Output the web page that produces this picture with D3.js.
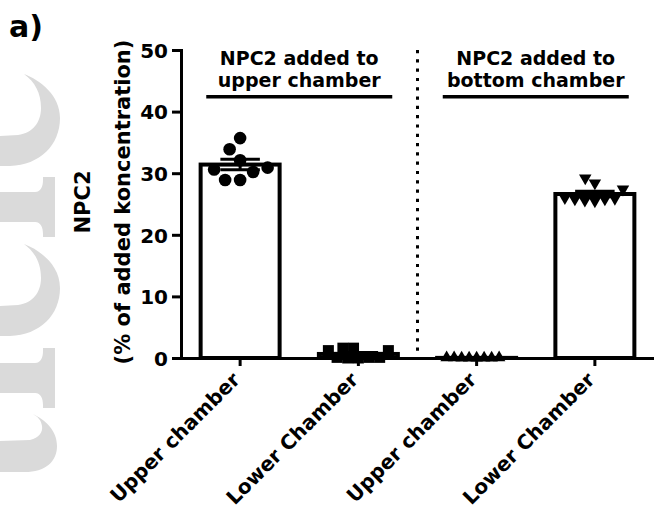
<!DOCTYPE html>
<html>
<head>
<meta charset="utf-8">
<script src="https://cdn.jsdelivr.net/npm/d3@7"></script>
<style>
  html, body { margin: 0; padding: 0; background: #fff; }
  svg { display: block; }
</style>
</head>
<body>
<svg id="chart" width="654" height="516"></svg>
<script>
// ---- data ----
const categories = ["Upper chamber", "Lower Chamber", "Upper chamber", "Lower Chamber"];
const groupLabels = [["NPC2 added to", "upper chamber"], ["NPC2 added to", "bottom chamber"]];
const yTicks = [0, 10, 20, 30, 40, 50];
const yTitle = ["NPC2", "(% of added koncentration)"];
const panelLabel = "a)";

// individual measurements per column (% of added concentration)
const upperAddedUpper = [35.7, 33.9, 32.1, 30.9, 30.6, 30.2, 28.9, 28.9];
const upperAddedLower = [1.6, 1.6, 1.2, 1.2, 0.1, 0.1, 0.1, 0.0, 0.0];
const bottomAddedUpper = [0.05, 0.0, 0.05, 0.0, 0.0, 0.05, 0.0, 0.0];
const bottomAddedLower = [29.2, 28.4, 27.4, 26.0, 25.9, 25.8, 25.8, 25.6, 25.5];

const columns = [upperAddedUpper, upperAddedLower, bottomAddedUpper, bottomAddedLower];
const markers = ["circle", "square", "triangleUp", "triangleDown"];

// ---- layout ----
const FONT = "'DejaVu Sans', Verdana, sans-serif";
const svg = d3.select("#chart");

const y = d3.scaleLinear().domain([0, 50]).range([358, 50]);
const x = d3.scaleBand()
  .domain(d3.range(categories.length))
  .range([181, 654])
  .paddingInner(0.332)
  .paddingOuter(0.166);

// ---- background watermark glyph fragments ----
const wm = svg.append("g").attr("fill", "#dadada");
const crescent = "M24,74 C40,80 60,95 60,118 C60,145 40,165 10,166 L0,166 L0,136 L18,135 C33,133 41,122 41,108 C41,93 35,82 24,74 Z";
const stem = "M0,192 L35,192 C41,192 43,186 43,180 L43,177 L55,177 L55,237 L43,237 L43,234 C43,228 41,222 35,222 L0,222 Z";
wm.append("path").attr("d", crescent);
wm.append("path").attr("d", crescent).attr("transform", "translate(0,170)");
wm.append("path").attr("d", stem);
wm.append("path").attr("d", stem).attr("transform", "translate(0,171)");
wm.append("path").attr("d", "M33,414 C45,420 57,430 57,446 C57,462 45,472 25,472 L0,472 L0,441 L30,440 C39,438 43,432 42,426 C41,420 38,417 33,414 Z");

// ---- summary statistics ----
const stats = columns.map(v => ({
  mean: d3.mean(v),
  sem: d3.deviation(v) / Math.sqrt(v.length)
}));

// ---- bars ----
svg.append("g").selectAll("rect")
  .data(stats)
  .join("rect")
  .attr("x", (d, i) => x(i))
  .attr("width", x.bandwidth())
  .attr("y", d => y(d.mean))
  .attr("height", d => y(0) - y(d.mean))
  .attr("fill", "#fff")
  .attr("stroke", "#000")
  .attr("stroke-width", 4);

// ---- error bars (mean ± SEM) ----
const capHalf = x.bandwidth() / 4;
const eb = svg.append("g").attr("stroke", "#000").attr("stroke-width", 3);
stats.forEach((d, i) => {
  const cx = x(i) + x.bandwidth() / 2;
  const y1 = y(d.mean + d.sem), y0 = y(Math.max(0, d.mean - d.sem));
  eb.append("line").attr("x1", cx).attr("x2", cx).attr("y1", y1).attr("y2", y0);
  eb.append("line").attr("x1", cx - capHalf).attr("x2", cx + capHalf).attr("y1", y1).attr("y2", y1);
  eb.append("line").attr("x1", cx - capHalf).attr("x2", cx + capHalf).attr("y1", y0).attr("y2", y0);
});

// ---- scatter points, spread sideways so they do not overlap ----
// gap: minimum distance between marker centres; ky: weight of vertical separation
function swarm(values, gap, ky, halfMax) {
  const pts = values.map(v => ({ v, py: y(v), dx: 0 }));
  const order = pts.slice().sort((a, b) => a.v - b.v);
  const placed = [];
  for (const p of order) {
    for (let k = 0; k < 2000; k++) {
      const off = (k % 2 === 0 ? 1 : -1) * Math.ceil(k / 2) * 0.5;
      if (placed.every(q => Math.hypot(q.dx - off, (q.py - p.py) * ky) >= gap)) { p.dx = off; break; }
    }
    placed.push(p);
  }
  const m = d3.max(pts, p => Math.abs(p.dx));
  if (m > halfMax) pts.forEach(p => { p.dx *= halfMax / m; });
  return pts;
}

const symbolFor = {
  circle: d3.symbol(d3.symbolCircle, Math.PI * 6.3 * 6.3),
  square: d3.symbol(d3.symbolSquare, 11 * 11),
  triangleUp: d3.symbol(d3.symbolTriangle, 0.433 * 12.5 * 12.5),
  triangleDown: d3.symbol(d3.symbolTriangle, 0.433 * 12.5 * 12.5)
};
const spread = {
  circle: { gap: 15, ky: 1 },
  square: { gap: 11, ky: 1 },
  triangleUp: { gap: 12, ky: 1 },
  triangleDown: { gap: 13, ky: 0.85 }
};

const pg = svg.append("g").attr("fill", "#000");
columns.forEach((vals, i) => {
  const cx = x(i) + x.bandwidth() / 2;
  const kind = markers[i];
  const pts = swarm(vals, spread[kind].gap, spread[kind].ky, 30);
  pg.selectAll(null)
    .data(pts)
    .join("path")
    .attr("d", symbolFor[kind]())
    .attr("transform", p => `translate(${cx + p.dx},${p.py})` + (kind === "triangleDown" ? " rotate(180)" : ""));
});

// ---- axes ----
const gy = svg.append("g")
  .attr("transform", `translate(${x.range()[0]},0)`)
  .call(d3.axisLeft(y).tickValues(yTicks).tickSize(9).tickSizeOuter(0).tickPadding(4));
gy.select(".domain").attr("stroke-width", 3).attr("stroke-linecap", "square");
gy.selectAll(".tick line").attr("stroke-width", 3);
gy.selectAll(".tick text")
  .attr("font-family", FONT).attr("font-weight", "bold").attr("font-size", 20)
  .attr("fill", "#000").attr("dy", "0.36em");

const gx = svg.append("g")
  .attr("transform", `translate(0,${y(0)})`)
  .call(d3.axisBottom(x).tickSize(8).tickSizeOuter(0).tickFormat(i => categories[i]));
gx.select(".domain").attr("stroke-width", 3).attr("stroke-linecap", "square");
gx.selectAll(".tick line").attr("stroke-width", 3);
gx.selectAll(".tick text")
  .attr("font-family", FONT).attr("font-weight", "bold").attr("font-size", 20)
  .attr("fill", "#000")
  .attr("text-anchor", "end")
  .attr("x", 0).attr("y", 0).attr("dy", 0)
  .attr("transform", "translate(1,23) rotate(-45)");

// ---- divider between the two experiments ----
const divX = (x(1) + x(2) + x.bandwidth()) / 2;
svg.append("line")
  .attr("x1", divX).attr("x2", divX)
  .attr("y1", y(50)).attr("y2", y(0) - 2)
  .attr("stroke", "#000").attr("stroke-width", 3)
  .attr("stroke-dasharray", "3.2 6.1");

// ---- group headers with underline ----
groupLabels.forEach((lines, g) => {
  const a = x(2 * g), b = x(2 * g + 1) + x.bandwidth();
  const cx = (a + b) / 2;
  const t = svg.append("text")
    .attr("font-family", FONT).attr("font-weight", "bold").attr("font-size", 19)
    .attr("text-anchor", "middle").attr("fill", "#000");
  t.append("tspan").attr("x", cx).attr("y", 65).text(lines[0]);
  t.append("tspan").attr("x", cx).attr("y", 87).text(lines[1]);
  svg.append("line")
    .attr("x1", cx - 93).attr("x2", cx + 93)
    .attr("y1", 96.7).attr("y2", 96.7)
    .attr("stroke", "#000").attr("stroke-width", 3.5);
});

// ---- y-axis title ----
const yMid = (y(0) + y(50)) / 2 - 2;
[[90, yTitle[0]], [129.5, yTitle[1]]].forEach(([tx, s]) => {
  svg.append("text")
    .attr("transform", `translate(${tx},${yMid}) rotate(-90)`)
    .attr("font-family", FONT).attr("font-weight", "bold").attr("font-size", 21)
    .attr("text-anchor", "middle").attr("fill", "#000")
    .text(s);
});

// ---- panel label ----
svg.append("text")
  .attr("x", 9).attr("y", 37)
  .attr("font-family", FONT).attr("font-weight", "bold").attr("font-size", 30)
  .attr("fill", "#000")
  .text(panelLabel);
</script>
</body>
</html>
